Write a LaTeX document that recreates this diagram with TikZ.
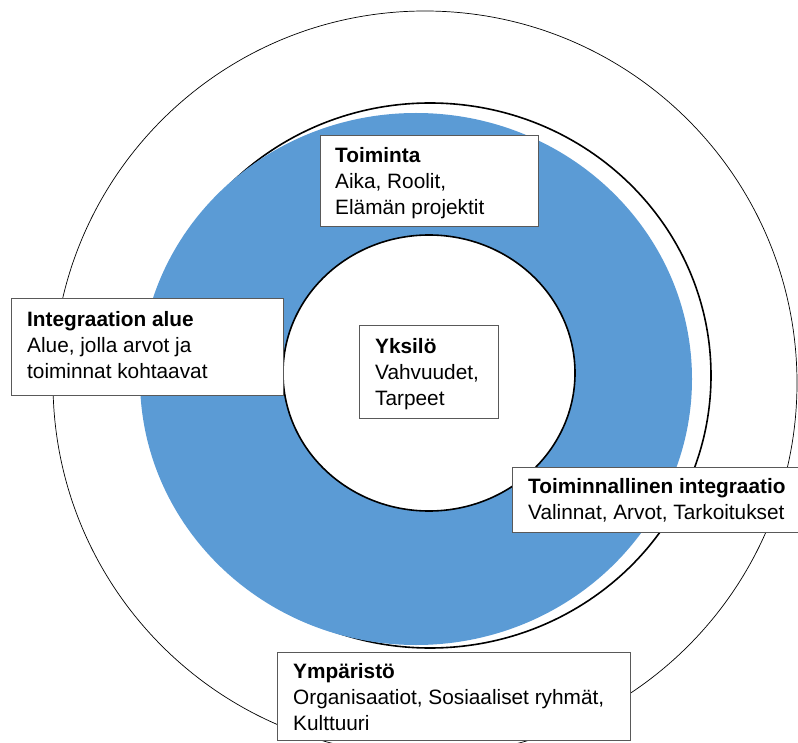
\documentclass[tikz,border=0pt]{standalone}
\usepackage{fontspec}
\setmainfont{Liberation Sans}
\definecolor{ringblue}{HTML}{5B9BD5}
\definecolor{boxline}{HTML}{595959}
\begin{document}
\begin{tikzpicture}[x=1pt,y=-1pt,
  labelbox/.style={draw=boxline,line width=1pt,fill=white,rectangle,inner sep=0pt,anchor=north west},
  labeltext/.style={anchor=base west,inner sep=0pt,align=left,font=\fontsize{20.8}{26}\selectfont}]
\useasboundingbox (0,0) rectangle (798,743);
% outer environment circle
\draw[line width=0.7pt] (425,383) circle[radius=372];
% ring outline
\draw[line width=1.6pt,fill=white] (430,375.5) ellipse[x radius=281,y radius=272.5];
% blue band
\fill[ringblue] (416,379) ellipse[x radius=276,y radius=266];
% inner individual circle
\draw[line width=1.6pt,fill=white] (429,373) ellipse[x radius=146,y radius=138];
% boxes (text anchored at the baseline of its last line)
\node[labelbox,minimum width=218,minimum height=91] (toim) at (320,135) {};
\node[labeltext] (toimt) at ([xshift=15,yshift=-80]toim.north west) {\textbf{Toiminta}\\Aika, Roolit,\\Elämän projektit};
\node[labelbox,minimum width=272,minimum height=97] (integ) at (11,298) {};
\node[labeltext] (integt) at ([xshift=16,yshift=-80]integ.north west) {\textbf{Integraation alue}\\Alue, jolla arvot ja\\toiminnat kohtaavat};
\node[labelbox,minimum width=139,minimum height=93] (yks) at (359,325) {};
\node[labeltext] (ykst) at ([xshift=16,yshift=-80]yks.north west) {\textbf{Yksilö}\\Vahvuudet,\\Tarpeet};
\node[labelbox,minimum width=286,minimum height=65] (toimi) at (512,467) {};
\node[labeltext] (toimit) at ([xshift=16,yshift=-52]toimi.north west) {\textbf{Toiminnallinen integraatio}\\Valinnat, Arvot, Tarkoitukset};
\node[labelbox,minimum width=353,minimum height=88] (ymp) at (277,652) {};
\node[labeltext] (ympt) at ([xshift=16,yshift=-78]ymp.north west) {\textbf{Ympäristö}\\Organisaatiot, Sosiaaliset ryhmät,\\Kulttuuri};
\end{tikzpicture}
\end{document}
